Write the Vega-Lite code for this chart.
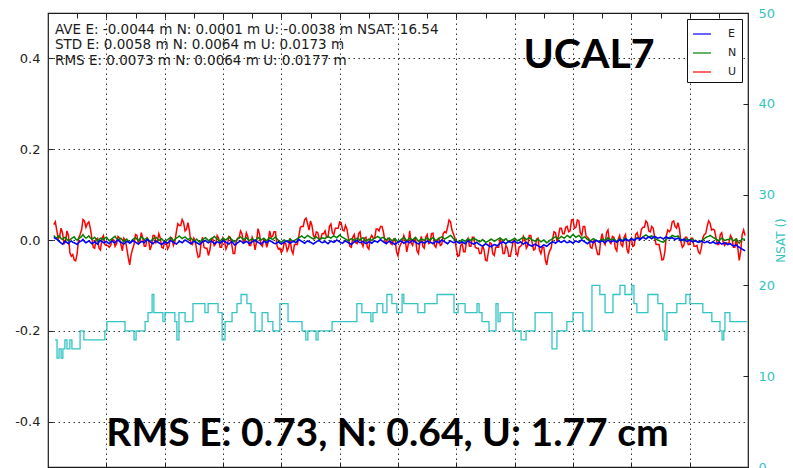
{
  "$schema": "https://vega.github.io/schema/vega-lite/v6.json",
  "width": 700,
  "height": 454,
  "autosize": {"type": "none"},
  "padding": {"left": 48, "top": 13, "right": 45, "bottom": 1},
  "background": "white",
  "config": {
    "view": {"stroke": "#1a1a1a", "strokeWidth": 1.2},
    "font": "DejaVu Sans",
    "axis": {"domain": false, "labelFont": "DejaVu Sans", "titleFont": "DejaVu Sans", "tickColor": "#222"},
    "legend": {
      "orient": "top-right", "offset": 6, "title": null,
      "strokeColor": "#111", "fillColor": "white", "padding": 5,
      "symbolType": "stroke", "symbolSize": 324, "symbolStrokeWidth": 1.2,
      "labelFont": "DejaVu Sans", "labelFontSize": 11, "labelColor": "#222",
      "labelOffset": 16, "rowPadding": 4
    }
  },
  "datasets": {
    "enu": [
      {"t":0.2,"E":0.006,"N":0.010,"U":0.034},{"t":0.3,"E":0.002,"N":0.004,"U":0.022},{"t":0.4,"E":-0.004,"N":0.008,"U":0.008},{"t":0.5,"E":-0.009,"N":0.001,"U":0.015},{"t":0.6,"E":-0.003,"N":0.006,"U":-0.004},{"t":0.7,"E":-0.008,"N":-0.002,"U":0.010},{"t":0.8,"E":-0.002,"N":0.003,"U":-0.036},{"t":0.9,"E":-0.006,"N":0.007,"U":-0.044},
      {"t":1.0,"E":-0.010,"N":0.000,"U":-0.030},{"t":1.1,"E":-0.003,"N":0.005,"U":0.012},{"t":1.2,"E":0.001,"N":0.012,"U":0.045},{"t":1.3,"E":-0.006,"N":0.004,"U":0.028},{"t":1.4,"E":-0.002,"N":0.009,"U":0.040},{"t":1.5,"E":-0.008,"N":0.002,"U":0.006},{"t":1.6,"E":-0.004,"N":0.006,"U":-0.018},{"t":1.7,"E":-0.009,"N":-0.003,"U":0.004},{"t":1.8,"E":-0.001,"N":0.004,"U":-0.022},{"t":1.9,"E":-0.006,"N":0.001,"U":0.010},
      {"t":2.0,"E":-0.003,"N":0.006,"U":-0.012},{"t":2.1,"E":-0.008,"N":-0.002,"U":-0.016},{"t":2.2,"E":-0.002,"N":0.003,"U":0.002},{"t":2.3,"E":-0.006,"N":0.008,"U":-0.014},{"t":2.4,"E":0.000,"N":0.000,"U":0.008},{"t":2.5,"E":-0.005,"N":0.004,"U":-0.010},{"t":2.6,"E":-0.009,"N":-0.004,"U":0.004},{"t":2.7,"E":-0.003,"N":0.002,"U":-0.018},{"t":2.8,"E":-0.007,"N":-0.006,"U":-0.055},{"t":2.9,"E":-0.001,"N":0.001,"U":-0.020},
      {"t":3.0,"E":-0.005,"N":0.005,"U":0.012},{"t":3.1,"E":-0.009,"N":-0.002,"U":-0.008},{"t":3.2,"E":-0.003,"N":0.007,"U":0.016},{"t":3.3,"E":-0.006,"N":0.001,"U":-0.014},{"t":3.4,"E":0.001,"N":0.004,"U":0.004},{"t":3.5,"E":-0.004,"N":-0.003,"U":-0.022},{"t":3.6,"E":-0.008,"N":0.002,"U":0.010},{"t":3.7,"E":-0.002,"N":0.006,"U":-0.006},{"t":3.8,"E":-0.006,"N":-0.001,"U":0.014},{"t":3.9,"E":-0.010,"N":0.003,"U":-0.016},
      {"t":4.0,"E":-0.004,"N":-0.004,"U":-0.004},{"t":4.1,"E":-0.007,"N":0.001,"U":-0.020},{"t":4.2,"E":-0.001,"N":0.005,"U":0.006},{"t":4.3,"E":-0.005,"N":-0.002,"U":-0.012},{"t":4.4,"E":-0.009,"N":0.004,"U":0.018},{"t":4.5,"E":-0.003,"N":0.009,"U":0.032},{"t":4.6,"E":-0.006,"N":0.003,"U":0.045},{"t":4.7,"E":0.000,"N":0.007,"U":0.020},{"t":4.8,"E":-0.004,"N":0.001,"U":0.038},{"t":4.9,"E":-0.008,"N":0.004,"U":-0.008},
      {"t":5.0,"E":-0.003,"N":-0.003,"U":0.004},{"t":5.1,"E":-0.006,"N":0.002,"U":-0.024},{"t":5.2,"E":-0.010,"N":-0.005,"U":-0.036},{"t":5.3,"E":-0.004,"N":0.001,"U":0.006},{"t":5.4,"E":-0.001,"N":0.005,"U":-0.018},{"t":5.5,"E":-0.006,"N":-0.002,"U":-0.034},{"t":5.6,"E":-0.002,"N":0.003,"U":0.002},{"t":5.7,"E":-0.008,"N":0.008,"U":-0.012},{"t":5.8,"E":-0.004,"N":0.002,"U":0.010},{"t":5.9,"E":-0.007,"N":-0.003,"U":-0.016},
      {"t":6.0,"E":-0.001,"N":0.004,"U":0.004},{"t":6.1,"E":-0.005,"N":0.000,"U":-0.020},{"t":6.2,"E":-0.009,"N":0.006,"U":0.008},{"t":6.3,"E":-0.003,"N":0.001,"U":-0.010},{"t":6.4,"E":-0.011,"N":-0.004,"U":-0.030},{"t":6.5,"E":-0.006,"N":0.002,"U":0.004},{"t":6.6,"E":-0.002,"N":0.007,"U":0.020},{"t":6.7,"E":-0.007,"N":0.001,"U":-0.006},{"t":6.8,"E":-0.003,"N":0.005,"U":0.016},{"t":6.9,"E":-0.008,"N":-0.002,"U":-0.012},
      {"t":7.0,"E":-0.004,"N":0.003,"U":0.006},{"t":7.1,"E":0.000,"N":-0.003,"U":-0.022},{"t":7.2,"E":-0.005,"N":0.006,"U":0.025},{"t":7.3,"E":-0.009,"N":0.000,"U":-0.010},{"t":7.4,"E":-0.003,"N":0.004,"U":0.002},{"t":7.5,"E":-0.006,"N":-0.002,"U":-0.016},{"t":7.6,"E":-0.001,"N":0.005,"U":0.020},{"t":7.7,"E":-0.005,"N":0.001,"U":0.008},{"t":7.8,"E":-0.008,"N":0.007,"U":0.018},{"t":7.9,"E":-0.004,"N":-0.001,"U":-0.020},
      {"t":8.0,"E":-0.009,"N":-0.005,"U":-0.028},{"t":8.1,"E":-0.005,"N":0.000,"U":-0.006},{"t":8.2,"E":-0.002,"N":-0.004,"U":-0.024},{"t":8.3,"E":-0.007,"N":0.002,"U":0.004},{"t":8.4,"E":-0.003,"N":-0.003,"U":-0.030},{"t":8.5,"E":-0.006,"N":0.001,"U":-0.010},{"t":8.6,"E":0.001,"N":0.005,"U":0.008},{"t":8.7,"E":-0.003,"N":0.009,"U":0.030},{"t":8.8,"E":-0.007,"N":0.004,"U":0.045},{"t":8.9,"E":-0.002,"N":0.010,"U":0.036},
      {"t":9.0,"E":-0.005,"N":0.006,"U":0.042},{"t":9.1,"E":-0.009,"N":0.002,"U":0.010},{"t":9.2,"E":-0.004,"N":0.007,"U":0.018},{"t":9.3,"E":-0.001,"N":0.001,"U":0.002},{"t":9.4,"E":-0.006,"N":0.005,"U":0.014},{"t":9.5,"E":-0.003,"N":0.003,"U":0.020},{"t":9.6,"E":-0.008,"N":0.008,"U":0.006},{"t":9.7,"E":-0.002,"N":0.004,"U":0.035},{"t":9.8,"E":-0.005,"N":0.009,"U":0.012},{"t":9.9,"E":0.000,"N":0.005,"U":0.026},
      {"t":10.0,"E":-0.004,"N":0.011,"U":0.040},{"t":10.1,"E":-0.007,"N":0.006,"U":0.022},{"t":10.2,"E":-0.002,"N":0.002,"U":0.032},{"t":10.3,"E":-0.006,"N":-0.002,"U":0.004},{"t":10.4,"E":-0.010,"N":0.003,"U":-0.016},{"t":10.5,"E":-0.004,"N":-0.001,"U":0.012},{"t":10.6,"E":-0.001,"N":0.004,"U":-0.008},{"t":10.7,"E":-0.006,"N":0.000,"U":0.018},{"t":10.8,"E":-0.003,"N":0.005,"U":-0.014},{"t":10.9,"E":-0.008,"N":-0.003,"U":0.006},
      {"t":11.0,"E":-0.004,"N":0.002,"U":-0.020},{"t":11.1,"E":-0.007,"N":-0.001,"U":0.010},{"t":11.2,"E":-0.002,"N":0.004,"U":0.004},{"t":11.3,"E":-0.005,"N":0.008,"U":0.024},{"t":11.4,"E":0.001,"N":0.003,"U":0.030},{"t":11.5,"E":-0.004,"N":0.006,"U":0.018},{"t":11.6,"E":-0.008,"N":0.000,"U":-0.006},{"t":11.7,"E":-0.003,"N":0.004,"U":0.004},{"t":11.8,"E":-0.006,"N":-0.002,"U":-0.010},{"t":11.9,"E":-0.010,"N":0.003,"U":0.002},
      {"t":12.0,"E":-0.005,"N":-0.004,"U":-0.035},{"t":12.1,"E":-0.002,"N":0.001,"U":-0.008},{"t":12.2,"E":-0.007,"N":0.005,"U":0.010},{"t":12.3,"E":-0.003,"N":-0.002,"U":-0.026},{"t":12.4,"E":-0.006,"N":0.004,"U":0.020},{"t":12.5,"E":-0.001,"N":0.000,"U":-0.012},{"t":12.6,"E":-0.005,"N":0.006,"U":0.004},{"t":12.7,"E":-0.009,"N":-0.003,"U":-0.030},{"t":12.8,"E":-0.004,"N":0.002,"U":0.008},{"t":12.9,"E":-0.007,"N":-0.001,"U":-0.018},
      {"t":13.0,"E":-0.002,"N":0.004,"U":0.012},{"t":13.1,"E":-0.005,"N":0.000,"U":-0.006},{"t":13.2,"E":-0.008,"N":0.005,"U":0.015},{"t":13.3,"E":-0.003,"N":-0.002,"U":-0.016},{"t":13.4,"E":-0.006,"N":0.003,"U":0.004},{"t":13.5,"E":0.000,"N":0.007,"U":-0.010},{"t":13.6,"E":-0.004,"N":0.002,"U":0.018},{"t":13.7,"E":-0.008,"N":0.006,"U":0.028},{"t":13.8,"E":-0.002,"N":0.010,"U":0.040},{"t":13.9,"E":-0.006,"N":0.003,"U":0.014},
      {"t":14.0,"E":-0.003,"N":-0.002,"U":-0.020},{"t":14.1,"E":-0.007,"N":-0.005,"U":-0.034},{"t":14.2,"E":-0.004,"N":0.001,"U":-0.008},{"t":14.3,"E":-0.008,"N":-0.003,"U":-0.026},{"t":14.4,"E":-0.002,"N":0.002,"U":0.004},{"t":14.5,"E":-0.006,"N":-0.001,"U":-0.014},{"t":14.6,"E":-0.009,"N":0.004,"U":0.006},{"t":14.7,"E":-0.005,"N":0.000,"U":-0.018},{"t":14.8,"E":-0.010,"N":-0.004,"U":-0.030},{"t":14.9,"E":-0.013,"N":0.001,"U":-0.012},
      {"t":15.0,"E":-0.008,"N":-0.005,"U":-0.044},{"t":15.1,"E":-0.012,"N":-0.002,"U":-0.026},{"t":15.2,"E":-0.015,"N":0.002,"U":-0.008},{"t":15.3,"E":-0.010,"N":-0.003,"U":-0.034},{"t":15.4,"E":-0.013,"N":0.001,"U":-0.016},{"t":15.5,"E":-0.007,"N":0.004,"U":0.002},{"t":15.6,"E":-0.004,"N":-0.001,"U":-0.030},{"t":15.7,"E":-0.008,"N":0.003,"U":-0.012},{"t":15.8,"E":-0.003,"N":-0.004,"U":-0.036},{"t":15.9,"E":-0.006,"N":0.000,"U":-0.020},
      {"t":16.0,"E":-0.002,"N":0.004,"U":0.000},{"t":16.1,"E":-0.007,"N":-0.002,"U":-0.034},{"t":16.2,"E":-0.004,"N":0.002,"U":-0.014},{"t":16.3,"E":-0.009,"N":0.006,"U":0.008},{"t":16.4,"E":-0.005,"N":0.001,"U":-0.018},{"t":16.5,"E":-0.011,"N":0.005,"U":0.010},{"t":16.6,"E":-0.014,"N":0.000,"U":-0.006},{"t":16.7,"E":-0.009,"N":-0.003,"U":-0.020},{"t":16.8,"E":-0.013,"N":0.002,"U":0.004},{"t":16.9,"E":-0.016,"N":-0.004,"U":-0.030},
      {"t":17.0,"E":-0.011,"N":0.000,"U":-0.016},{"t":17.1,"E":-0.014,"N":-0.006,"U":-0.055},{"t":17.2,"E":-0.008,"N":-0.001,"U":-0.024},{"t":17.3,"E":-0.004,"N":0.003,"U":0.002},{"t":17.4,"E":-0.007,"N":0.007,"U":0.016},{"t":17.5,"E":-0.002,"N":0.002,"U":0.008},{"t":17.6,"E":-0.005,"N":0.008,"U":0.026},{"t":17.7,"E":-0.001,"N":0.004,"U":0.014},{"t":17.8,"E":-0.006,"N":0.010,"U":0.030},{"t":17.9,"E":-0.003,"N":0.005,"U":0.020},
      {"t":18.0,"E":-0.007,"N":0.012,"U":0.045},{"t":18.1,"E":-0.002,"N":0.006,"U":0.028},{"t":18.2,"E":-0.005,"N":0.010,"U":0.042},{"t":18.3,"E":0.000,"N":0.003,"U":0.010},{"t":18.4,"E":-0.004,"N":0.007,"U":0.030},{"t":18.5,"E":-0.008,"N":0.001,"U":0.006},{"t":18.6,"E":-0.003,"N":-0.002,"U":-0.016},{"t":18.7,"E":-0.006,"N":0.003,"U":-0.002},{"t":18.8,"E":-0.001,"N":-0.001,"U":-0.020},{"t":18.9,"E":-0.005,"N":-0.004,"U":-0.032},
      {"t":19.0,"E":-0.002,"N":0.002,"U":0.014},{"t":19.1,"E":-0.006,"N":-0.001,"U":-0.010},{"t":19.2,"E":0.000,"N":0.005,"U":0.022},{"t":19.3,"E":-0.004,"N":0.000,"U":-0.008},{"t":19.4,"E":-0.001,"N":0.003,"U":0.006},{"t":19.5,"E":-0.005,"N":-0.003,"U":-0.024},{"t":19.6,"E":0.001,"N":0.002,"U":0.010},{"t":19.7,"E":-0.003,"N":-0.001,"U":-0.014},{"t":19.8,"E":0.002,"N":0.004,"U":0.012},{"t":19.9,"E":-0.002,"N":-0.002,"U":-0.030},
      {"t":20.0,"E":0.003,"N":0.003,"U":0.004},{"t":20.1,"E":-0.001,"N":0.000,"U":-0.012},{"t":20.2,"E":0.004,"N":0.005,"U":0.016},{"t":20.3,"E":0.001,"N":0.002,"U":0.006},{"t":20.4,"E":0.006,"N":0.007,"U":0.028},{"t":20.5,"E":0.002,"N":0.011,"U":0.042},{"t":20.6,"E":0.007,"N":0.006,"U":0.020},{"t":20.7,"E":0.003,"N":0.009,"U":0.030},{"t":20.8,"E":0.008,"N":0.003,"U":0.006},{"t":20.9,"E":0.004,"N":0.000,"U":-0.010},
      {"t":21.0,"E":0.006,"N":-0.003,"U":-0.026},{"t":21.1,"E":0.002,"N":-0.005,"U":-0.043},{"t":21.2,"E":0.007,"N":0.002,"U":0.010},{"t":21.3,"E":0.003,"N":0.005,"U":0.018},{"t":21.4,"E":0.005,"N":0.010,"U":0.040},{"t":21.5,"E":0.001,"N":0.007,"U":0.030},{"t":21.6,"E":0.004,"N":0.009,"U":0.038},{"t":21.7,"E":-0.001,"N":0.001,"U":-0.004},{"t":21.8,"E":0.002,"N":-0.002,"U":-0.012},{"t":21.9,"E":-0.003,"N":0.003,"U":0.006},
      {"t":22.0,"E":0.000,"N":-0.001,"U":-0.010},{"t":22.1,"E":-0.004,"N":0.002,"U":0.004},{"t":22.2,"E":-0.001,"N":-0.003,"U":-0.014},{"t":22.3,"E":-0.005,"N":-0.005,"U":-0.026},{"t":22.4,"E":-0.002,"N":-0.002,"U":-0.018},{"t":22.5,"E":-0.006,"N":0.003,"U":0.012},{"t":22.6,"E":-0.003,"N":0.007,"U":0.030},{"t":22.7,"E":-0.007,"N":0.010,"U":0.037},{"t":22.8,"E":-0.004,"N":0.006,"U":0.024},{"t":22.9,"E":-0.008,"N":0.002,"U":0.006},
      {"t":23.0,"E":-0.005,"N":-0.002,"U":-0.010},{"t":23.1,"E":-0.009,"N":0.004,"U":0.016},{"t":23.2,"E":-0.006,"N":-0.001,"U":-0.012},{"t":23.3,"E":-0.010,"N":0.001,"U":-0.008},{"t":23.4,"E":-0.008,"N":0.004,"U":0.010},{"t":23.5,"E":-0.013,"N":-0.002,"U":-0.016},{"t":23.6,"E":-0.011,"N":0.002,"U":0.004},{"t":23.7,"E":-0.016,"N":-0.007,"U":-0.045},{"t":23.8,"E":-0.020,"N":0.003,"U":0.012},{"t":23.9,"E":-0.024,"N":0.001,"U":0.010},
      {"t":0.25,"E":0.003,"N":0.006,"U":0.040},{"t":0.35,"E":-0.001,"N":0.009,"U":0.002},{"t":0.45,"E":-0.007,"N":0.003,"U":0.026},{"t":0.55,"E":-0.005,"N":0.005,"U":-0.008},{"t":0.65,"E":-0.006,"N":0.001,"U":0.020},{"t":0.75,"E":-0.004,"N":0.000,"U":-0.028},{"t":0.85,"E":-0.005,"N":0.005,"U":-0.032},{"t":0.95,"E":-0.008,"N":0.002,"U":-0.046},
      {"t":1.05,"E":-0.006,"N":0.003,"U":0.004},{"t":1.15,"E":-0.002,"N":0.008,"U":0.022},{"t":1.25,"E":-0.003,"N":0.007,"U":0.042},{"t":1.35,"E":-0.004,"N":0.006,"U":0.036},{"t":1.45,"E":-0.005,"N":0.005,"U":0.026},{"t":1.55,"E":-0.006,"N":0.003,"U":-0.016},{"t":1.65,"E":-0.007,"N":0.002,"U":0.002},{"t":1.75,"E":-0.004,"N":0.001,"U":-0.018},{"t":1.85,"E":-0.003,"N":0.003,"U":0.004},{"t":1.95,"E":-0.005,"N":0.004,"U":-0.010},
      {"t":2.05,"E":-0.006,"N":0.002,"U":-0.012},{"t":2.15,"E":-0.004,"N":0.001,"U":-0.012},{"t":2.25,"E":-0.005,"N":0.006,"U":0.000},{"t":2.35,"E":-0.002,"N":0.003,"U":-0.008},{"t":2.45,"E":-0.003,"N":0.002,"U":0.004},{"t":2.55,"E":-0.007,"N":0.000,"U":-0.024},{"t":2.65,"E":-0.006,"N":-0.001,"U":0.000},{"t":2.75,"E":-0.004,"N":-0.002,"U":-0.038},{"t":2.85,"E":-0.005,"N":-0.003,"U":-0.032},{"t":2.95,"E":-0.003,"N":0.003,"U":-0.010},
      {"t":3.05,"E":-0.007,"N":0.002,"U":0.010},{"t":3.15,"E":-0.006,"N":0.003,"U":-0.004},{"t":3.25,"E":-0.004,"N":0.004,"U":0.004},{"t":3.35,"E":-0.002,"N":0.003,"U":-0.014},{"t":3.45,"E":-0.001,"N":0.000,"U":-0.002},{"t":3.55,"E":-0.006,"N":-0.001,"U":-0.012},{"t":3.65,"E":-0.005,"N":0.004,"U":0.010},{"t":3.75,"E":-0.004,"N":0.003,"U":-0.002},{"t":3.85,"E":-0.008,"N":0.001,"U":0.004},{"t":3.95,"E":-0.007,"N":-0.001,"U":-0.018},
      {"t":4.05,"E":-0.006,"N":-0.002,"U":-0.004},{"t":4.15,"E":-0.004,"N":0.003,"U":-0.014},{"t":4.25,"E":-0.003,"N":0.002,"U":0.004},{"t":4.35,"E":-0.007,"N":0.001,"U":-0.004},{"t":4.45,"E":-0.006,"N":0.006,"U":0.036},{"t":4.55,"E":-0.004,"N":0.006,"U":0.032},{"t":4.65,"E":-0.003,"N":0.005,"U":0.038},{"t":4.75,"E":-0.002,"N":0.004,"U":0.024},{"t":4.85,"E":-0.006,"N":0.003,"U":0.020},{"t":4.95,"E":-0.005,"N":0.001,"U":-0.010},
      {"t":5.05,"E":-0.004,"N":-0.001,"U":-0.002},{"t":5.15,"E":-0.008,"N":-0.002,"U":-0.038},{"t":5.25,"E":-0.007,"N":-0.002,"U":-0.006},{"t":5.35,"E":-0.003,"N":0.003,"U":-0.016},{"t":5.45,"E":-0.004,"N":0.002,"U":-0.018},{"t":5.55,"E":-0.004,"N":0.001,"U":-0.022},{"t":5.65,"E":-0.005,"N":0.005,"U":0.002},{"t":5.75,"E":-0.006,"N":0.005,"U":-0.008},{"t":5.85,"E":-0.005,"N":0.000,"U":0.004},{"t":5.95,"E":-0.004,"N":0.001,"U":-0.016},
      {"t":6.05,"E":-0.003,"N":0.002,"U":-0.002},{"t":6.15,"E":-0.007,"N":0.003,"U":-0.012},{"t":6.25,"E":-0.006,"N":0.004,"U":0.006},{"t":6.35,"E":-0.007,"N":-0.002,"U":-0.030},{"t":6.45,"E":-0.009,"N":-0.001,"U":-0.004},{"t":6.55,"E":-0.004,"N":0.005,"U":0.004},{"t":6.65,"E":-0.004,"N":0.004,"U":0.014},{"t":6.75,"E":-0.005,"N":0.003,"U":-0.004},{"t":6.85,"E":-0.005,"N":0.002,"U":0.008},{"t":6.95,"E":-0.006,"N":0.001,"U":-0.012},
      {"t":7.05,"E":-0.002,"N":0.000,"U":-0.002},{"t":7.15,"E":-0.003,"N":0.002,"U":-0.004},{"t":7.25,"E":-0.007,"N":0.003,"U":0.014},{"t":7.35,"E":-0.006,"N":0.002,"U":-0.014},{"t":7.45,"E":-0.004,"N":0.001,"U":0.000},{"t":7.55,"E":-0.003,"N":0.002,"U":-0.004},{"t":7.65,"E":-0.003,"N":0.003,"U":0.006},{"t":7.75,"E":-0.007,"N":0.004,"U":0.018},{"t":7.85,"E":-0.006,"N":0.003,"U":-0.012},{"t":7.95,"E":-0.007,"N":-0.003,"U":-0.018},
      {"t":8.05,"E":-0.007,"N":-0.002,"U":-0.022},{"t":8.15,"E":-0.003,"N":-0.002,"U":-0.008},{"t":8.25,"E":-0.005,"N":-0.001,"U":-0.016},{"t":8.35,"E":-0.005,"N":0.000,"U":-0.022},{"t":8.45,"E":-0.004,"N":-0.001,"U":-0.010},{"t":8.55,"E":-0.002,"N":0.003,"U":-0.010},{"t":8.65,"E":-0.001,"N":0.007,"U":0.028},{"t":8.75,"E":-0.005,"N":0.006,"U":0.030},{"t":8.85,"E":-0.004,"N":0.007,"U":0.048},{"t":8.95,"E":-0.004,"N":0.008,"U":0.022},
      {"t":9.05,"E":-0.007,"N":0.004,"U":0.032},{"t":9.15,"E":-0.006,"N":0.005,"U":0.004},{"t":9.25,"E":-0.002,"N":0.004,"U":0.016},{"t":9.35,"E":-0.004,"N":0.003,"U":0.002},{"t":9.45,"E":-0.005,"N":0.004,"U":0.014},{"t":9.55,"E":-0.006,"N":0.006,"U":0.006},{"t":9.65,"E":-0.005,"N":0.006,"U":0.030},{"t":9.75,"E":-0.004,"N":0.007,"U":0.016},{"t":9.85,"E":-0.003,"N":0.007,"U":0.026},{"t":9.95,"E":-0.002,"N":0.008,"U":0.026},
      {"t":10.05,"E":-0.006,"N":0.008,"U":0.038},{"t":10.15,"E":-0.004,"N":0.004,"U":0.020},{"t":10.25,"E":-0.004,"N":0.000,"U":0.024},{"t":10.35,"E":-0.008,"N":0.001,"U":-0.014},{"t":10.45,"E":-0.007,"N":0.001,"U":0.006},{"t":10.55,"E":-0.003,"N":0.002,"U":-0.006},{"t":10.65,"E":-0.004,"N":0.002,"U":0.014},{"t":10.75,"E":-0.005,"N":0.003,"U":-0.006},{"t":10.85,"E":-0.006,"N":0.001,"U":0.004},{"t":10.95,"E":-0.006,"N":0.000,"U":-0.016},
      {"t":11.05,"E":-0.005,"N":0.001,"U":0.004},{"t":11.15,"E":-0.004,"N":0.002,"U":0.004},{"t":11.25,"E":-0.003,"N":0.006,"U":0.024},{"t":11.35,"E":-0.002,"N":0.006,"U":0.020},{"t":11.45,"E":-0.002,"N":0.005,"U":0.030},{"t":11.55,"E":-0.006,"N":0.003,"U":-0.002},{"t":11.65,"E":-0.005,"N":0.002,"U":0.004},{"t":11.75,"E":-0.004,"N":0.001,"U":-0.008},{"t":11.85,"E":-0.008,"N":0.000,"U":0.002},{"t":11.95,"E":-0.007,"N":-0.001,"U":-0.026},
      {"t":12.05,"E":-0.004,"N":-0.002,"U":-0.016},{"t":12.15,"E":-0.004,"N":0.003,"U":-0.004},{"t":12.25,"E":-0.005,"N":0.002,"U":0.000},{"t":12.35,"E":-0.004,"N":0.001,"U":-0.010},{"t":12.45,"E":-0.003,"N":0.002,"U":-0.006},{"t":12.55,"E":-0.003,"N":0.003,"U":0.002},{"t":12.65,"E":-0.007,"N":0.002,"U":-0.024},{"t":12.75,"E":-0.006,"N":0.000,"U":-0.004},{"t":12.85,"E":-0.005,"N":0.001,"U":-0.014},{"t":12.95,"E":-0.005,"N":0.002,"U":0.006},
      {"t":13.05,"E":-0.004,"N":0.002,"U":-0.008},{"t":13.15,"E":-0.006,"N":0.003,"U":0.014},{"t":13.25,"E":-0.005,"N":0.002,"U":-0.012},{"t":13.35,"E":-0.004,"N":0.001,"U":0.000},{"t":13.45,"E":-0.003,"N":0.005,"U":-0.012},{"t":13.55,"E":-0.002,"N":0.005,"U":0.014},{"t":13.65,"E":-0.006,"N":0.004,"U":0.016},{"t":13.75,"E":-0.005,"N":0.008,"U":0.044},{"t":13.85,"E":-0.004,"N":0.007,"U":0.022},{"t":13.95,"E":-0.005,"N":0.001,"U":0.004},
      {"t":14.05,"E":-0.005,"N":-0.004,"U":-0.036},{"t":14.15,"E":-0.006,"N":-0.002,"U":-0.012},{"t":14.25,"E":-0.006,"N":-0.001,"U":-0.026},{"t":14.35,"E":-0.005,"N":0.000,"U":-0.002},{"t":14.45,"E":-0.004,"N":0.001,"U":-0.014},{"t":14.55,"E":-0.008,"N":0.002,"U":0.006},{"t":14.65,"E":-0.007,"N":0.002,"U":-0.016},{"t":14.75,"E":-0.008,"N":-0.002,"U":-0.018},{"t":14.85,"E":-0.012,"N":-0.002,"U":-0.030},{"t":14.95,"E":-0.011,"N":-0.002,"U":-0.022},
      {"t":15.05,"E":-0.010,"N":-0.004,"U":-0.046},{"t":15.15,"E":-0.014,"N":0.000,"U":-0.006},{"t":15.25,"E":-0.012,"N":0.000,"U":-0.030},{"t":15.35,"E":-0.011,"N":-0.001,"U":-0.016},{"t":15.45,"E":-0.010,"N":0.003,"U":-0.016},{"t":15.55,"E":-0.006,"N":0.002,"U":-0.006},{"t":15.65,"E":-0.006,"N":0.001,"U":-0.030},{"t":15.75,"E":-0.005,"N":-0.001,"U":-0.018},{"t":15.85,"E":-0.005,"N":-0.002,"U":-0.036},{"t":15.95,"E":-0.004,"N":0.002,"U":-0.002},
      {"t":16.05,"E":-0.005,"N":0.001,"U":-0.028},{"t":16.15,"E":-0.006,"N":0.000,"U":-0.016},{"t":16.25,"E":-0.007,"N":0.004,"U":-0.010},{"t":16.35,"E":-0.007,"N":0.004,"U":0.002},{"t":16.45,"E":-0.008,"N":0.003,"U":-0.012},{"t":16.55,"E":-0.012,"N":0.003,"U":0.010},{"t":16.65,"E":-0.011,"N":-0.001,"U":-0.022},{"t":16.75,"E":-0.011,"N":0.000,"U":0.002},{"t":16.85,"E":-0.015,"N":-0.001,"U":-0.022},{"t":16.95,"E":-0.013,"N":-0.002,"U":-0.016},
      {"t":17.05,"E":-0.012,"N":-0.003,"U":-0.044},{"t":17.15,"E":-0.011,"N":-0.004,"U":-0.034},{"t":17.25,"E":-0.006,"N":0.001,"U":-0.018},{"t":17.35,"E":-0.005,"N":0.005,"U":0.018},{"t":17.45,"E":-0.004,"N":0.005,"U":-0.002},{"t":17.55,"E":-0.004,"N":0.005,"U":0.026},{"t":17.65,"E":-0.003,"N":0.006,"U":0.014},{"t":17.75,"E":-0.004,"N":0.007,"U":0.028},{"t":17.85,"E":-0.005,"N":0.008,"U":0.018},{"t":17.95,"E":-0.005,"N":0.009,"U":0.044},
      {"t":18.05,"E":-0.004,"N":0.009,"U":0.026},{"t":18.15,"E":-0.004,"N":0.008,"U":0.044},{"t":18.25,"E":-0.002,"N":0.007,"U":0.016},{"t":18.35,"E":-0.002,"N":0.005,"U":0.030},{"t":18.45,"E":-0.006,"N":0.004,"U":0.008},{"t":18.55,"E":-0.005,"N":0.000,"U":0.002},{"t":18.65,"E":-0.004,"N":0.001,"U":-0.018},{"t":18.75,"E":-0.003,"N":0.001,"U":-0.004},{"t":18.85,"E":-0.003,"N":-0.002,"U":-0.032},{"t":18.95,"E":-0.003,"N":-0.001,"U":0.000},
      {"t":19.05,"E":-0.004,"N":0.001,"U":-0.004},{"t":19.15,"E":-0.003,"N":0.002,"U":0.016},{"t":19.25,"E":-0.002,"N":0.003,"U":-0.004},{"t":19.35,"E":-0.003,"N":0.001,"U":0.008},{"t":19.45,"E":-0.003,"N":0.000,"U":-0.018},{"t":19.55,"E":-0.002,"N":-0.001,"U":0.002},{"t":19.65,"E":-0.001,"N":0.001,"U":-0.010},{"t":19.75,"E":-0.001,"N":0.002,"U":0.006},{"t":19.85,"E":0.000,"N":0.001,"U":-0.020},{"t":19.95,"E":0.000,"N":0.000,"U":-0.002},
      {"t":20.05,"E":0.001,"N":0.002,"U":-0.014},{"t":20.15,"E":0.002,"N":0.003,"U":0.012},{"t":20.25,"E":0.003,"N":0.004,"U":0.004},{"t":20.35,"E":0.004,"N":0.004,"U":0.024},{"t":20.45,"E":0.004,"N":0.009,"U":0.028},{"t":20.55,"E":0.005,"N":0.009,"U":0.038},{"t":20.65,"E":0.005,"N":0.008,"U":0.018},{"t":20.75,"E":0.006,"N":0.006,"U":0.026},{"t":20.85,"E":0.006,"N":0.002,"U":-0.010},{"t":20.95,"E":0.005,"N":-0.001,"U":-0.010},
      {"t":21.05,"E":0.004,"N":-0.004,"U":-0.044},{"t":21.15,"E":0.005,"N":-0.002,"U":-0.026},{"t":21.25,"E":0.005,"N":0.004,"U":0.022},{"t":21.35,"E":0.004,"N":0.007,"U":0.022},{"t":21.45,"E":0.003,"N":0.009,"U":0.042},{"t":21.55,"E":0.003,"N":0.008,"U":0.026},{"t":21.65,"E":0.002,"N":0.005,"U":0.024},{"t":21.75,"E":0.000,"N":0.000,"U":-0.016},{"t":21.85,"E":-0.001,"N":0.001,"U":0.006},{"t":21.95,"E":-0.002,"N":0.001,"U":-0.010},
      {"t":22.05,"E":-0.002,"N":0.000,"U":0.004},{"t":22.15,"E":-0.003,"N":-0.001,"U":-0.014},{"t":22.25,"E":-0.003,"N":-0.004,"U":-0.012},{"t":22.35,"E":-0.004,"N":-0.004,"U":-0.030},{"t":22.45,"E":-0.004,"N":0.000,"U":0.004},{"t":22.55,"E":-0.005,"N":0.005,"U":0.014},{"t":22.65,"E":-0.005,"N":0.008,"U":0.042},{"t":22.75,"E":-0.006,"N":0.008,"U":0.022},{"t":22.85,"E":-0.006,"N":0.004,"U":0.022},{"t":22.95,"E":-0.007,"N":0.000,"U":-0.010},
      {"t":23.05,"E":-0.007,"N":0.001,"U":0.012},{"t":23.15,"E":-0.008,"N":0.002,"U":-0.006},{"t":23.25,"E":-0.008,"N":0.000,"U":-0.006},{"t":23.35,"E":-0.009,"N":0.002,"U":-0.006},{"t":23.45,"E":-0.011,"N":0.001,"U":0.004},{"t":23.55,"E":-0.012,"N":0.000,"U":-0.016},{"t":23.65,"E":-0.014,"N":-0.003,"U":-0.018},{"t":23.75,"E":-0.018,"N":-0.002,"U":-0.024},{"t":23.85,"E":-0.022,"N":0.002,"U":0.022}
    ],
    "nsat": [
      {"t":0.24,"nsat":14},{"t":0.31,"nsat":12},{"t":0.38,"nsat":13},{"t":0.45,"nsat":12},{"t":0.51,"nsat":13},{"t":0.58,"nsat":14},{"t":0.65,"nsat":13},{"t":0.75,"nsat":14},{"t":0.82,"nsat":13},{"t":1.10,"nsat":15},{"t":1.23,"nsat":14},{"t":1.95,"nsat":15},{"t":2.02,"nsat":16},{"t":2.64,"nsat":15},{"t":2.95,"nsat":14},{"t":3.02,"nsat":15},{"t":3.33,"nsat":16},{"t":3.43,"nsat":17},{"t":3.57,"nsat":19},{"t":3.63,"nsat":17},{"t":3.94,"nsat":16},{"t":4.01,"nsat":17},{"t":4.35,"nsat":16},{"t":4.42,"nsat":14},{"t":4.49,"nsat":17},{"t":4.70,"nsat":16},{"t":4.97,"nsat":18},{"t":5.38,"nsat":17},{"t":5.49,"nsat":18},{"t":5.83,"nsat":17},{"t":5.97,"nsat":14},{"t":6.07,"nsat":16},{"t":6.31,"nsat":17},{"t":6.48,"nsat":18},{"t":6.62,"nsat":19},{"t":6.82,"nsat":18},{"t":6.96,"nsat":17},{"t":7.10,"nsat":15},{"t":7.34,"nsat":17},{"t":7.54,"nsat":16},{"t":7.71,"nsat":15},{"t":7.95,"nsat":18},{"t":8.23,"nsat":16},{"t":8.71,"nsat":15},{"t":8.84,"nsat":14},{"t":8.91,"nsat":15},{"t":9.19,"nsat":14},{"t":9.26,"nsat":15},{"t":9.74,"nsat":16},{"t":10.59,"nsat":18},{"t":10.76,"nsat":17},{"t":11.07,"nsat":16},{"t":11.14,"nsat":17},{"t":11.28,"nsat":18},{"t":11.48,"nsat":17},{"t":11.62,"nsat":19},{"t":11.79,"nsat":18},{"t":11.96,"nsat":17},{"t":12.14,"nsat":19},{"t":12.20,"nsat":18},{"t":12.68,"nsat":17},{"t":12.92,"nsat":18},{"t":13.34,"nsat":19},{"t":13.92,"nsat":17},{"t":14.06,"nsat":18},{"t":14.30,"nsat":17},{"t":14.71,"nsat":18},{"t":14.78,"nsat":17},{"t":14.88,"nsat":16},{"t":15.12,"nsat":15},{"t":15.36,"nsat":18},{"t":15.43,"nsat":16},{"t":15.50,"nsat":17},{"t":15.94,"nsat":15},{"t":16.22,"nsat":14},{"t":16.39,"nsat":15},{"t":16.70,"nsat":17},{"t":17.28,"nsat":13},{"t":17.45,"nsat":15},{"t":17.79,"nsat":16},{"t":18.00,"nsat":17},{"t":18.34,"nsat":15},{"t":18.65,"nsat":20},{"t":18.92,"nsat":19},{"t":19.10,"nsat":17},{"t":19.37,"nsat":19},{"t":19.61,"nsat":20},{"t":19.78,"nsat":19},{"t":20.02,"nsat":20},{"t":20.09,"nsat":18},{"t":20.19,"nsat":17},{"t":20.57,"nsat":19},{"t":20.91,"nsat":18},{"t":21.08,"nsat":15},{"t":21.15,"nsat":14},{"t":21.22,"nsat":17},{"t":21.56,"nsat":18},{"t":21.87,"nsat":19},{"t":22.01,"nsat":18},{"t":22.45,"nsat":17},{"t":22.76,"nsat":16},{"t":23.04,"nsat":15},{"t":23.11,"nsat":14},{"t":23.17,"nsat":15},{"t":23.21,"nsat":17},{"t":23.38,"nsat":16},{"t":23.96,"nsat":16}
    ]
  },
  "layer": [
    {
      "encoding": {
        "x": {"field": "t", "type": "quantitative", "scale": {"domain": [0, 24], "nice": false, "zero": false},
              "axis": {"orient": "bottom", "values": [2,4,6,8,10,12,14,16,18,20,22], "labels": false, "ticks": true, "tickSize": -5, "grid": true, "gridDash": [1.5, 3.5], "gridColor": "#333", "gridWidth": 1, "title": null}},
        "y": {"field": "value", "type": "quantitative", "scale": {"domain": [-0.5, 0.5], "nice": false, "zero": false},
              "axis": {"orient": "left", "values": [-0.4,-0.2,0,0.2,0.4], "labelExpr": "datum.value < 0 ? '-' + format(-datum.value, '.1f') : format(datum.value, '.1f')", "labelFontSize": 13, "labelColor": "#222", "tickSize": -5, "labelPadding": 13, "grid": true, "gridDash": [1.5, 3.5], "gridColor": "#333", "gridWidth": 1, "title": null}}
      },
      "layer": [
        {
          "data": {"name": "enu"},
          "transform": [{"fold": ["U"], "as": ["series", "value"]}],
          "mark": {"type": "line", "strokeWidth": 1.5},
          "encoding": {"color": {"field": "series", "type": "nominal", "scale": {"domain": ["E","N","U"], "range": ["#0000ff","#008000","#ff0000"]}, "legend": {}}}
        },
        {
          "data": {"name": "enu"},
          "transform": [{"fold": ["N"], "as": ["series", "value"]}],
          "mark": {"type": "line", "strokeWidth": 1.5},
          "encoding": {"color": {"field": "series", "type": "nominal", "scale": {"domain": ["E","N","U"], "range": ["#0000ff","#008000","#ff0000"]}, "legend": {}}}
        },
        {
          "data": {"name": "enu"},
          "transform": [{"fold": ["E"], "as": ["series", "value"]}],
          "mark": {"type": "line", "strokeWidth": 1.6},
          "encoding": {"color": {"field": "series", "type": "nominal", "scale": {"domain": ["E","N","U"], "range": ["#0000ff","#008000","#ff0000"]}, "legend": {}}}
        },
        {
          "data": {"values": [
            {"t": 0.24, "value": 0.453, "txt": "AVE E: -0.0044 m N: 0.0001 m U: -0.0038 m NSAT: 16.54"},
            {"t": 0.24, "value": 0.420, "txt": "STD E: 0.0058 m N: 0.0064 m U: 0.0173 m"},
            {"t": 0.24, "value": 0.385, "txt": "RMS E: 0.0073 m N: 0.0064 m U: 0.0177 m"}
          ]},
          "mark": {"type": "text", "align": "left", "baseline": "alphabetic", "font": "DejaVu Sans", "fontSize": 13.5, "color": "#1a1a1a"},
          "encoding": {"text": {"field": "txt"}}
        },
        {
          "data": {"values": [{"t": 16.3, "value": 0.379, "txt": "UCAL7"}]},
          "mark": {"type": "text", "align": "left", "baseline": "alphabetic", "font": "Lato", "fontWeight": "bold", "fontSize": 41, "color": "#000"},
          "encoding": {"text": {"field": "txt"}}
        },
        {
          "data": {"values": [{"t": 2.0, "value": -0.454, "txt": "RMS E: 0.73, N: 0.64, U: 1.77 cm"}]},
          "mark": {"type": "text", "align": "left", "baseline": "alphabetic", "font": "Lato", "fontWeight": "bold", "fontSize": 39, "color": "#000"},
          "encoding": {"text": {"field": "txt"}}
        }
      ]
    },
    {
      "data": {"name": "nsat"},
      "mark": {"type": "line", "interpolate": "step-after", "color": "#33c4c4", "strokeWidth": 1.3},
      "encoding": {
        "x": {"field": "t", "type": "quantitative", "scale": {"domain": [0, 24], "nice": false, "zero": false},
              "axis": {"orient": "top", "values": [1,2,3,4,5,6,7,8,9,10,11,12,13,14,15,16,17,18,19,20,21,22,23], "labels": false, "ticks": true, "tickSize": -5, "grid": false, "title": null}},
        "y": {"field": "nsat", "type": "quantitative", "scale": {"domain": [0, 50], "nice": false, "zero": false},
              "axis": {"orient": "right", "values": [0,10,20,30,40,50], "labelFontSize": 13, "labelColor": "#33c4c4", "tickSize": -5, "labelPadding": 15, "grid": false, "title": "NSAT ()", "titleColor": "#33c4c4", "titleFontSize": 12, "titleFontWeight": "normal", "titleAngle": 270, "titlePadding": 13}}
      }
    }
  ],
  "resolve": {"scale": {"y": "independent"}, "axis": {"x": "independent"}}
}
